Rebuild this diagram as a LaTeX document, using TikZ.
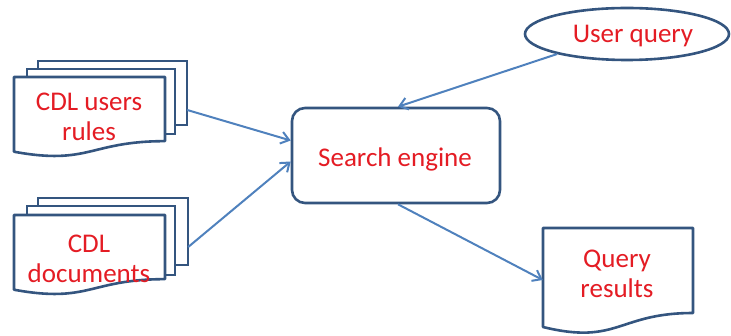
\documentclass[tikz,border=0pt]{standalone}
\usepackage{fontspec}
\setmainfont{Carlito}
\usetikzlibrary{arrows.meta,shapes.geometric}
\definecolor{shapeblue}{RGB}{52,85,127}
\definecolor{arrowblue}{RGB}{79,129,189}
\definecolor{textred}{RGB}{228,28,36}
\newcommand\mydocshape[4]{%
  \draw[docline] (#1,#2) -- ({#1+#3},#2) -- ({#1+#3},{#2+0.802*#4})
    .. controls ({#1+#3/2},{#2+0.802*#4}) and ({#1+#3/2},{#2+1.107*#4}) .. (#1,{#2+0.934*#4}) -- cycle;}
\tikzset{
  docline/.style={draw=shapeblue, line width=2.6pt, fill=white, line join=round},
  layer/.style={draw=shapeblue, line width=2.6pt, fill=white},
  lbl/.style={text=textred, font=\fontsize{27}{30}\selectfont, align=center, inner sep=0pt},
  conn/.style={draw=arrowblue, line width=2pt, -{Straight Barb[length=8pt,width=12pt]}},
  ghost/.style={draw=none, inner sep=0pt}
}
\begin{document}
\begin{tikzpicture}[x=1pt,y=-1pt]
\useasboundingbox (0,0) rectangle (731,336);
% CDL users rules
\draw[layer] (38,61) rectangle (187,125);
\draw[layer] (27,69) rectangle (175,134);
\mydocshape{14}{77}{151}{80}
\node[ghost, minimum width=173pt, minimum height=91pt] (rulesbox) at (100.5,106.5) {};
\node[lbl] (rules) at (89,116.5) {CDL users\\rules};
% CDL documents
\draw[layer] (38,198) rectangle (188,265);
\draw[layer] (27,206) rectangle (175,275);
\mydocshape{14}{215}{151}{80}
\node[ghost, minimum width=174pt, minimum height=92pt] (docsbox) at (101,244) {};
\node[lbl] (docs) at (89,259) {CDL\\documents};
% Search engine
\node[draw=shapeblue, line width=2.6pt, rounded corners=13pt, minimum width=208pt, minimum height=95pt, fill=white] (engine) at (396,155.5) {};
\node[lbl] (enginetext) at (395,159) {Search engine};
% User query
\node[ellipse, draw=shapeblue, line width=2.6pt, minimum width=204pt, minimum height=52pt, inner sep=0pt] (uq) at (627,34) {};
\node[lbl] (uqtext) at (633,36) {User query};
% Query results
\mydocshape{543}{228}{150}{106}
\node[ghost, minimum width=150pt, minimum height=85pt] (qrbox) at (618,270.5) {};
\node[lbl] (qr) at (617,273.5) {Query\\results};
% connectors
\draw[conn] ([yshift=-3.5pt]rulesbox.east) -- ([yshift=15pt]engine.west);
\draw[conn] ([yshift=-3pt]docsbox.east) -- ([yshift=-6pt]engine.west);
\draw[conn] (uq.196) -- ([xshift=2pt]engine.north);
\draw[conn] ([xshift=2pt]engine.south) -- ([yshift=-9.5pt]qrbox.west);
\end{tikzpicture}
\end{document}
